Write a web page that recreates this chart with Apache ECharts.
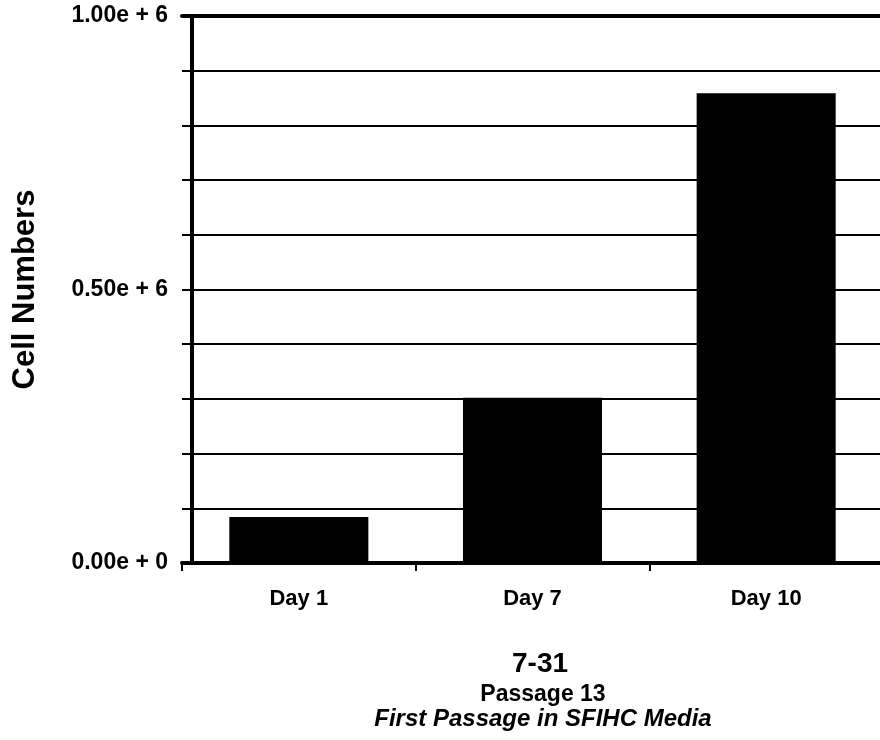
<!DOCTYPE html>
<html>
<head>
<meta charset="utf-8">
<script src="https://cdn.jsdelivr.net/npm/echarts@6/dist/echarts.min.js"></script>
<style>html,body{margin:0;padding:0;background:#fff;}#c{width:880px;height:740px;}</style>
</head>
<body>
<div id="c"></div>
<script>
var categories = ['Day 1', 'Day 7', 'Day 10'];
var cellNumbers = [84000, 302000, 859000];
var yTickValues = [0, 500000, 1000000];
var yTickLabels = ['0.00e + 0', '0.50e + 6', '1.00e + 6'];
var titleMain = '7-31';
var titleSub1 = 'Passage 13';
var titleSub2 = 'First Passage in SFIHC Media';
var yAxisName = 'Cell Numbers';

var chart = echarts.init(document.getElementById('c'), null, {renderer: 'canvas'});
var font = '"Liberation Sans", Arial, Helvetica, sans-serif';
chart.setOption({
  animation: false,
  backgroundColor: '#fff',
  title: [
    {text: titleMain, left: 535, top: 645, textAlign: 'center',
     textStyle: {fontFamily: font, fontSize: 28, fontWeight: 'bold', color: '#000'}},
    {text: titleSub1, left: 538, top: 678, textAlign: 'center',
     textStyle: {fontFamily: font, fontSize: 23, fontWeight: 'bold', color: '#000'}},
    {text: titleSub2, left: 538, top: 702, textAlign: 'center',
     textStyle: {fontFamily: font, fontSize: 24, fontWeight: 'bold', fontStyle: 'italic', color: '#000'}}
  ],
  grid: {left: 182, top: 16, width: 701, height: 547, containLabel: false, outerBoundsMode: 'none'},
  xAxis: [
    {type: 'category', data: categories, position: 'bottom',
     axisLine: {lineStyle: {color: '#000', width: 4}},
     axisTick: {show: true, alignWithLabel: false, length: 8, lineStyle: {color: '#000', width: 2}},
     axisLabel: {margin: 25, fontFamily: font, fontSize: 22, fontWeight: 'bold', color: '#000'},
     splitLine: {show: false}},
    {type: 'category', data: categories, position: 'top',
     axisLine: {lineStyle: {color: '#000', width: 4}},
     axisTick: {show: false}, axisLabel: {show: false}, splitLine: {show: false}}
  ],
  yAxis: {
    type: 'value', min: 0, max: 1000000, interval: 100000, offset: -10,
    name: yAxisName, nameLocation: 'middle', nameRotate: 90, nameGap: 151,
    nameTextStyle: {fontFamily: font, fontSize: 31, fontWeight: 'bold', color: '#000'},
    axisLine: {show: true, lineStyle: {color: '#000', width: 4}},
    axisTick: {show: false},
    axisLabel: {margin: 24, fontFamily: font, fontSize: 23, fontWeight: 'bold', color: '#000',
      formatter: function (v) {
        for (var i = 0; i < yTickValues.length; i++) {
          if (Math.abs(v - yTickValues[i]) < 1) return yTickLabels[i];
        }
        return '';
      }},
    splitLine: {show: true, lineStyle: {color: '#000', width: 2}}
  },
  series: [{
    type: 'bar', data: cellNumbers, barWidth: '59.5%',
    itemStyle: {color: '#000'}, z: 3
  }]
});
</script>
</body>
</html>
